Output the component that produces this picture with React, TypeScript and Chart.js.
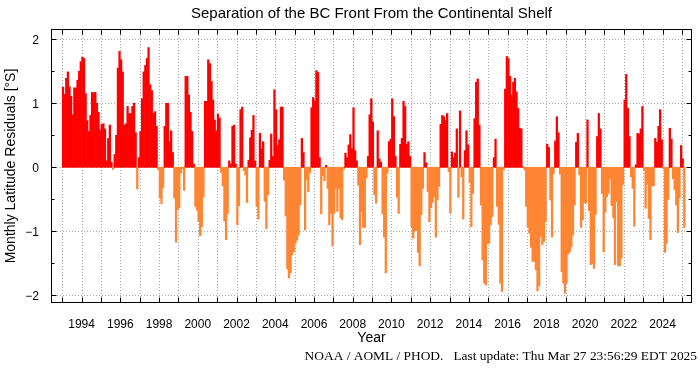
import React, { useEffect, useRef } from 'react';
import { Chart, registerables } from 'chart.js';

Chart.register(...registerables);

// Monthly latitude residuals [°S], Jan..Dec of each year
const firstYear = 1993;
const r1993 = [1.25, 1.14, 1.39, 1.49, 1.26, 1.11, 0.82, 1.24, 1.24, 1.36, 1.5, 1.65];
const r1994 = [1.72, 1.7, 1.15, 0.73, 0.56, 0.81, 1.17, 1.16, 1.17, 1.0, 0.86, 0.58];
const r1995 = [0.67, 0.68, 0.6, 0.1, 0.45, 0.66, 0.08, -0.03, 0.2, 0.5, 1.55, 1.81];
const r1996 = [1.68, 1.49, 0.66, 0.68, 0.95, 0.84, 0.84, 0.95, 1.0, 0.54, -0.34, 0.15];
const r1997 = [0.56, 1.07, 1.49, 1.59, 1.7, 1.87, 1.29, 1.2, 0.84, 0.87, 0.64, -0.04];
const r1998 = [-0.48, -0.57, -0.32, 0.64, 1.0, 1.0, 0.4, 0.57, 0.23, -0.48, -1.17, -0.66];
const r1999 = [-0.63, -0.09, -0.02, -0.36, 1.42, 1.42, 1.13, 0.86, 0.56, 0.05, -0.61, -0.67];
const r2000 = [-0.85, -1.07, -0.93, -0.46, 1.03, 1.03, 1.68, 1.62, 1.34, 1.05, 0.74, 0.57];
const r2001 = [0.83, 0.77, -0.08, -0.29, -0.84, -1.13, -0.72, 0.1, 0.05, 0.64, 0.66, 0.05];
const r2002 = [-0.9, -0.6, 0.9, 0.94, -0.05, -0.12, -0.55, 0.11, 0.46, 0.58, 0.81, 0.1];
const r2003 = [-0.61, -0.81, 0.53, 0.29, 0.4, -0.53, -0.96, -0.43, 0.11, 0.52, 0.17, 1.21];
const r2004 = [0.9, 0.34, 0.43, 0.94, 0.94, -0.2, -0.76, -1.59, -1.73, -1.65, -1.37, -1.32];
const r2005 = [-1.19, -1.14, -1.06, -0.59, 0.45, 0.23, -0.98, -0.2, -0.38, -0.09, 0.93, 1.09];
const r2006 = [1.04, 1.51, 1.48, 0.15, -0.73, -0.13, -0.21, 0.03, -0.33, -0.9, -0.72, -1.23];
const r2007 = [-0.72, -0.33, -0.69, -0.33, -0.79, -0.82, -0.03, 0.22, 0.15, 0.35, 0.51, 0.29];
const r2008 = [0.93, 0.26, 0.1, -0.28, -1.21, -0.69, -0.94, -0.94, -0.17, 0.17, 0.82, 1.07];
const r2009 = [0.71, -0.43, -0.56, 0.57, 0.13, 0.08, -0.73, -1.09, -1.65, -0.09, 0.4, 0.44];
const r2010 = [1.07, 0.79, 0.17, -0.47, -0.72, 0.36, 0.45, 1.03, 0.95, 0.36, 0.4, 0.17];
const r2011 = [-0.93, -1.11, -0.99, -0.99, -1.33, -1.54, -0.74, -0.33, 0.23, 0.07, -0.38, -0.85];
const r2012 = [-0.63, -0.55, -0.46, -1.09, -0.51, -0.3, 0.67, 0.81, 0.79, 0.73, 0.84, -0.07];
const r2013 = [-0.72, 0.24, 0.15, 0.22, 0.6, -0.47, 0.88, -0.15, -0.81, 0.26, 0.57, 0.35];
const r2014 = [-0.24, -0.93, -0.41, 0.76, 1.33, 1.38, 0.66, -0.59, -1.45, -1.81, -1.84, -1.19];
const r2015 = [-1.19, -0.9, -0.77, 0.15, 0.44, -0.61, -0.89, -1.81, -1.94, -0.04, 1.22, 1.73];
const r2016 = [1.7, 1.42, 1.13, 1.33, 1.39, 1.18, 0.92, 0.61, 0.6, 0.01, -0.04, -0.61];
const r2017 = [-0.93, -1.03, -1.25, -1.47, -1.47, -1.6, -1.93, -1.85, -1.08, -1.21, -1.16, -0.85];
const r2018 = [0.36, 0.31, -0.51, -1.09, -0.1, 0.41, 0.79, 0.54, -0.11, -1.63, -1.81, -1.97];
const r2019 = [-1.81, -1.36, -1.32, -1.24, -1.06, -0.59, 0.39, 0.53, -0.12, -0.94, -0.82, -0.55];
const r2020 = [-0.56, 0.74, -0.68, -1.52, -1.5, -1.58, -0.74, 0.48, 0.84, 0.6, -0.41, -1.32];
const r2021 = [-0.7, -0.46, -0.41, -0.18, -0.6, -0.79, -1.52, -0.54, -1.54, -1.54, -1.42, -0.27];
const r2022 = [1.05, 1.45, 0.92, 0.48, -0.15, -0.33, -0.92, 0.04, 0.53, 0.52, 0.6, 0.95];
const r2023 = [-0.04, -0.64, -0.27, -0.8, -1.13, -0.29, -0.29, 0.45, 0.39, 0.64, 0.9, 0.43];
const r2024 = [-0.02, -1.33, -1.19, -0.5, 0.61, 0.44, -0.18, -0.35, -0.59, -1.02, -0.48, 0.34];
const r2025 = [0.13, -0.94];

const yearlyResiduals = [
  r1993, r1994, r1995, r1996, r1997, r1998, r1999, r2000, r2001, r2002, r2003,
  r2004, r2005, r2006, r2007, r2008, r2009, r2010, r2011, r2012, r2013, r2014,
  r2015, r2016, r2017, r2018, r2019, r2020, r2021, r2022, r2023, r2024, r2025,
];

const xTickYears = [1994, 1996, 1998, 2000, 2002, 2004, 2006, 2008, 2010, 2012, 2014, 2016, 2018, 2020, 2022, 2024];
const xTickLabels = ['1994', '1996', '1998', '2000', '2002', '2004', '2006', '2008', '2010', '2012', '2014', '2016', '2018', '2020', '2022', '2024'];
const yTickValues = [-2, -1, 0, 1, 2];
const yTickLabels = ['\u22122', '\u22121', '0', '1', '2'];
const yMinorTicks = [-1.5, -0.5, 0.5, 1.5];

const titleText = 'Separation of the BC Front From the Continental Shelf';
const xTitle = 'Year';
const yTitle = 'Monthly Latitude Residuals [\u00b0S]';
const footerText = 'NOAA / AOML / PHOD.   Last update: Thu Mar 27 23:56:29 EDT 2025';

const RED = '#ff0000';
const ORANGE = '#ff8533';
const SANS = '"Liberation Sans", Arial, Helvetica, sans-serif';
const SERIF = '"Liberation Serif", "Times New Roman", serif';

const decorPlugin = {
  id: 'decor',
  beforeDatasetsDraw(chart: any) {
    const { ctx, chartArea: a, scales } = chart;
    const x = scales.x;
    const y = scales.y;
    ctx.save();
    ctx.strokeStyle = '#a8a8a8';
    ctx.lineWidth = 1;
    ctx.setLineDash([1, 2]);
    for (let yr = 1993; yr <= 2025; yr++) {
      const px = Math.round(x.getPixelForValue(yr)) + 0.5;
      ctx.beginPath();
      ctx.moveTo(px, a.top);
      ctx.lineTo(px, a.bottom);
      ctx.stroke();
    }
    for (const v of yTickValues) {
      const py = Math.round(y.getPixelForValue(v)) + 0.5;
      ctx.beginPath();
      ctx.moveTo(a.left, py);
      ctx.lineTo(a.right, py);
      ctx.stroke();
    }
    ctx.restore();
  },
  afterDatasetsDraw(chart: any) {
    const { ctx, chartArea: a, scales } = chart;
    const x = scales.x;
    const y = scales.y;
    ctx.save();
    ctx.setLineDash([]);
    ctx.strokeStyle = '#000';
    ctx.lineWidth = 1;
    const L = Math.round(a.left) + 0.5;
    const R = Math.round(a.right) - 0.5;
    const T = Math.round(a.top) + 0.5;
    const B = Math.round(a.bottom) - 0.5;
    // ticks
    ctx.beginPath();
    for (let yr = 1993; yr <= 2025; yr++) {
      const px = Math.round(x.getPixelForValue(yr)) + 0.5;
      ctx.moveTo(px, B); ctx.lineTo(px, B - 5);
      ctx.moveTo(px, T); ctx.lineTo(px, T + 5);
    }
    for (const v of yTickValues) {
      const py = Math.round(y.getPixelForValue(v)) + 0.5;
      ctx.moveTo(L, py); ctx.lineTo(L + 5, py);
      ctx.moveTo(R, py); ctx.lineTo(R - 5, py);
    }
    for (const v of yMinorTicks) {
      const py = Math.round(y.getPixelForValue(v)) + 0.5;
      ctx.moveTo(L, py); ctx.lineTo(L + 3, py);
      ctx.moveTo(R, py); ctx.lineTo(R - 3, py);
    }
    ctx.stroke();
    // border
    ctx.strokeRect(L, T, R - L, B - T);

    ctx.fillStyle = '#000';
    // y tick labels
    ctx.font = `12px ${SANS}`;
    ctx.textAlign = 'right';
    ctx.textBaseline = 'alphabetic';
    yTickValues.forEach((v, i) => {
      ctx.fillText(yTickLabels[i], a.left - 12, y.getPixelForValue(v) + 4.3);
    });
    // x tick labels
    ctx.textAlign = 'center';
    xTickYears.forEach((v, i) => {
      ctx.fillText(xTickLabels[i], x.getPixelForValue(v), 327.5);
    });
    // title
    ctx.font = `15px ${SANS}`;
    ctx.fillText(titleText, (a.left + a.right) / 2, 17.5);
    // x title
    ctx.font = `14px ${SANS}`;
    ctx.fillText(xTitle, (a.left + a.right) / 2, 342);
    // y title
    ctx.save();
    ctx.translate(15, (a.top + a.bottom) / 2);
    ctx.rotate(-Math.PI / 2);
    ctx.fillText(yTitle, 0, 0);
    ctx.restore();
    // footer
    ctx.font = `13.4px ${SERIF}`;
    ctx.textAlign = 'right';
    ctx.fillText(footerText, 697, 360);
    ctx.restore();
  },
};

export default function App() {
  const canvasRef = useRef<HTMLCanvasElement | null>(null);

  useEffect(() => {
    const canvas = canvasRef.current;
    if (!canvas) return;
    const points: { x: number; y: number }[] = [];
    yearlyResiduals.forEach((vals, yi) => {
      vals.forEach((v, mi) => {
        points.push({ x: firstYear + yi + (mi + 0.5) / 12, y: v });
      });
    });
    const colors = points.map((p) => (p.y >= 0 ? RED : ORANGE));

    const chart = new Chart(canvas, {
      type: 'bar',
      data: {
        datasets: [
          {
            data: points as any,
            backgroundColor: colors,
            borderWidth: 0,
            barPercentage: 1,
            categoryPercentage: 1,
          },
        ],
      },
      options: {
        animation: false,
        responsive: false,
        devicePixelRatio: 1,
        layout: { padding: { left: 51, right: 8, top: 29, bottom: 65 } },
        plugins: {
          legend: { display: false },
          tooltip: { enabled: false },
          title: { display: false },
        },
        scales: {
          x: {
            type: 'linear',
            display: false,
            min: 1992.42,
            max: 2025.52,
            offset: false,
          },
          y: {
            type: 'linear',
            display: false,
            min: -2.12,
            max: 2.16,
          },
        },
      },
      plugins: [decorPlugin],
    } as any);

    return () => {
      chart.destroy();
    };
  }, []);

  return (
    <div style={{ position: 'fixed', left: 0, top: 0, width: 700, height: 368, background: '#fff' }}>
      <canvas ref={canvasRef} width={700} height={368} style={{ width: 700, height: 368, display: 'block' }} />
    </div>
  );
}
